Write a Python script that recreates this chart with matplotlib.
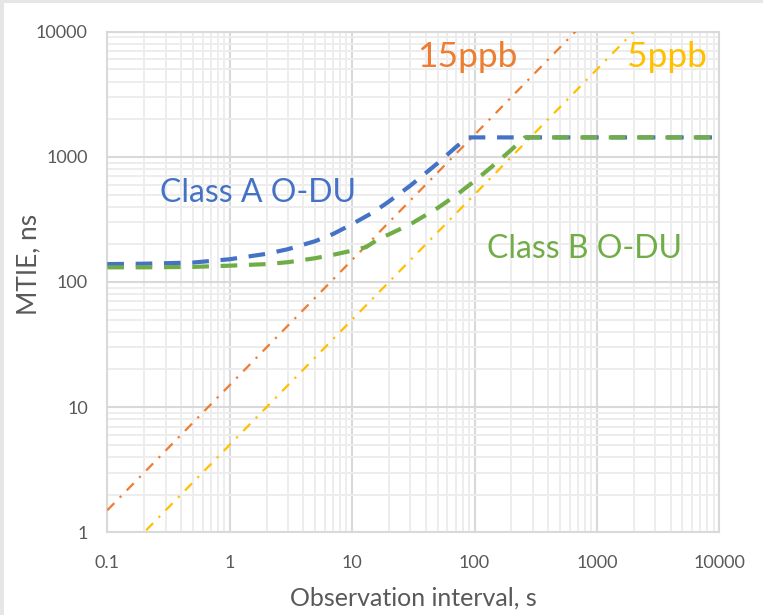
import matplotlib
matplotlib.use("Agg")
import matplotlib.pyplot as plt
from matplotlib.patches import Rectangle
from matplotlib.ticker import FixedLocator, LogLocator, NullFormatter, FixedFormatter

# ---- data ----
tau_ppb = [0.1, 1, 10, 100, 1000, 10000]
mtie_15ppb = [1.5, 15, 150, 1500, 15000, 150000]
mtie_5ppb = [0.5, 5, 50, 500, 5000, 50000]

tau_a = [0.1, 0.2, 0.5, 1, 2, 3, 5, 7, 10, 15, 20, 30, 50, 70, 88, 100, 1000, 10000]
mtie_a = [139, 140, 143, 152, 168, 183, 212, 242, 290, 362, 440, 590, 890, 1190, 1430, 1430, 1430, 1430]

tau_b = [0.1, 0.2, 0.5, 1, 2, 3, 5, 7, 10, 13, 17, 20, 30, 50, 70, 100, 150, 200, 258, 1000, 10000]
mtie_b = [131, 131, 132, 135, 139, 144, 155, 165, 178, 190, 225, 240, 290, 390, 490, 640, 890, 1140, 1430, 1430, 1430]

x_ticks = [0.1, 1, 10, 100, 1000, 10000]
x_tick_labels = ["0.1", "1", "10", "100", "1000", "10000"]
y_ticks = [1, 10, 100, 1000, 10000]
y_tick_labels = ["1", "10", "100", "1000", "10000"]

labels = ["15ppb", "5ppb", "Class A O-DU", "Class B O-DU"]

C_BLUE = "#4472C4"
C_ORANGE = "#ED7D31"
C_GOLD = "#FFC000"
C_GREEN = "#70AD47"
C_TEXT = "#595959"

plt.rcParams["font.family"] = ["Lato", "DejaVu Sans"]

W, H = 763, 615
fig = plt.figure(figsize=(W / 100, H / 100), dpi=100)
ax = fig.add_axes([107.3 / W, 1 - 532.3 / H, (719.3 - 107.3) / W, (532.3 - 31.7) / H])

ax.set_xscale("log")
ax.set_yscale("log")
ax.set_xlim(0.1, 10000)
ax.set_ylim(1, 10000)

# grid
ax.xaxis.set_major_locator(FixedLocator(x_ticks))
ax.yaxis.set_major_locator(FixedLocator(y_ticks))
ax.xaxis.set_major_formatter(FixedFormatter(x_tick_labels))
ax.yaxis.set_major_formatter(FixedFormatter(y_tick_labels))
ax.xaxis.set_minor_locator(LogLocator(base=10, subs=range(2, 10), numticks=100))
ax.yaxis.set_minor_locator(LogLocator(base=10, subs=range(2, 10), numticks=100))
ax.xaxis.set_minor_formatter(NullFormatter())
ax.yaxis.set_minor_formatter(NullFormatter())
ax.grid(which="minor", color="#EDEDED", lw=1.4, zorder=0)
ax.grid(which="major", color="#D9D9D9", lw=1.5, zorder=0)
ax.set_axisbelow(True)
for s in ax.spines.values():
    s.set_color("#D9D9D9")
    s.set_linewidth(1.5)
ax.tick_params(which="both", length=0)
ax.tick_params(axis="y", pad=14, labelsize=13, labelcolor=C_TEXT)
ax.tick_params(axis="x", pad=16, labelsize=13, labelcolor=C_TEXT)

# series
ax.plot(tau_ppb, mtie_15ppb, color=C_ORANGE, lw=1.6, dashes=(4.5, 3.5, 1, 3.5), zorder=3)
ax.plot(tau_ppb, mtie_5ppb, color=C_GOLD, lw=1.6, dashes=(4.5, 3.5, 1, 3.5), zorder=3)
ax.plot(tau_a, mtie_a, color=C_BLUE, lw=3.0, dashes=(4.0, 2.8), zorder=4)
ax.plot(tau_b, mtie_b, color=C_GREEN, lw=3.0, dashes=(4.0, 2.8), zorder=5)

# labels
ax.text(34, 5225, labels[0], color=C_ORANGE, fontsize=25.5, ha="left", va="baseline")
ax.text(1763, 5225, labels[1], color=C_GOLD, fontsize=25.5, ha="left", va="baseline")
ax.text(0.27, 436, labels[2], color=C_BLUE, fontsize=23, ha="left", va="baseline")
ax.text(126.5, 155.6, labels[3], color=C_GREEN, fontsize=23, ha="left", va="baseline")

fig.text(413 / W, 1 - 606 / H, "Observation interval, s", color=C_TEXT, fontsize=18,
         ha="center", va="baseline")
fig.text(29 / W, 1 - 264 / H, "MTIE, ns", color=C_TEXT, fontsize=19, rotation=90,
         ha="center", va="center")

# outer chart-area border (left and top visible)
fig.patches.append(Rectangle((0, 0), 4 / W, 1, transform=fig.transFigure,
                             facecolor="#E6E6E6", edgecolor="none", zorder=10))
fig.patches.append(Rectangle((0, 1 - 3 / H), 1, 3 / H, transform=fig.transFigure,
                             facecolor="#E6E6E6", edgecolor="none", zorder=10))

fig.savefig("out.png", dpi=100)
